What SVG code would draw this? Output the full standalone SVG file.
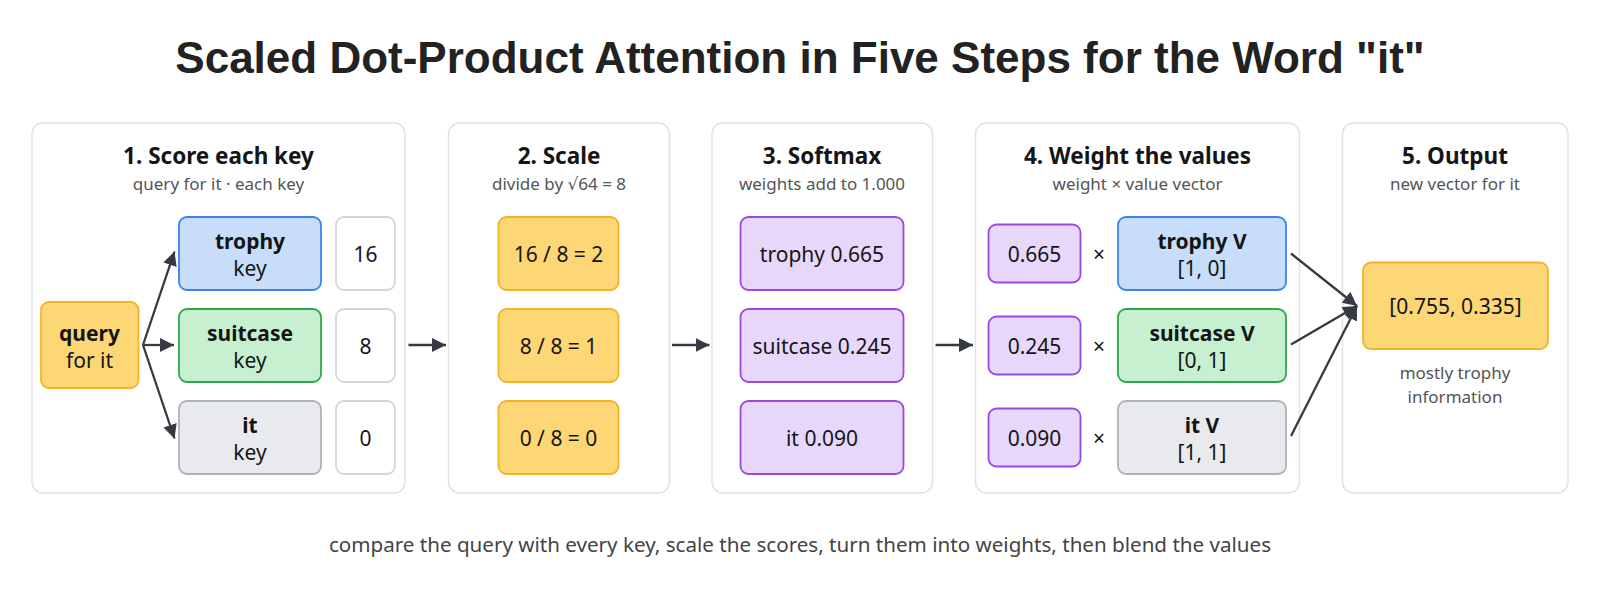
<svg xmlns="http://www.w3.org/2000/svg" width="1600" height="591" viewBox="0 0 1600 591">
<defs>
<marker id="ah" markerUnits="userSpaceOnUse" markerWidth="14" markerHeight="14" refX="14" refY="7" orient="auto">
<path d="M0,0 L14,7 L0,14 z" fill="#363a42"/>
</marker>
<style>
.panel{fill:#ffffff;stroke:#dfe2e6;stroke-width:1.5}
.pt{font-family:"Noto Sans","DejaVu Sans",sans-serif;font-size:22.5px;font-weight:700;fill:#151515;text-anchor:middle}
.ps{font-family:"Noto Sans","DejaVu Sans",sans-serif;font-size:17px;fill:#555555;text-anchor:middle}
.t{font-family:"Noto Sans","DejaVu Sans",sans-serif;font-size:21px;fill:#151515;text-anchor:middle}
.b{font-weight:700}
.yel{fill:#fdd775;stroke:#f2b327;stroke-width:1.8}
.blu{fill:#c7ddfa;stroke:#3a82f0;stroke-width:1.8}
.grn{fill:#c6f0d0;stroke:#2ba84a;stroke-width:1.8}
.gry{fill:#e8eaed;stroke:#adb2b9;stroke-width:1.8}
.pur{fill:#e7d7fb;stroke:#9a48e4;stroke-width:1.8}
.wht{fill:#ffffff;stroke:#d3d6db;stroke-width:1.8}
.con{stroke:#363a42;stroke-width:2.3;fill:none;marker-end:url(#ah)}
.note{font-family:"Noto Sans","DejaVu Sans",sans-serif;font-size:17px;fill:#555555;text-anchor:middle}
</style>
</defs>
<rect width="1600" height="591" fill="#ffffff"/>
<text x="800" y="73" text-anchor="middle" font-family="'Liberation Sans',Arial,sans-serif" font-size="44" font-weight="700" fill="#222222">Scaled Dot-Product Attention in Five Steps for the Word "it"</text>

<g id="panel1">
<rect class="panel" x="32" y="123" width="373" height="370" rx="11"/>
<text class="pt" x="218.5" y="164">1. Score each key</text>
<text class="ps" x="218.5" y="190">query for it · each key</text>
</g>
<g id="query">
<rect class="yel" x="41" y="302" width="97.5" height="86" rx="8"/>
<text class="t b" x="89.5" y="341">query</text>
<text class="t" x="89.5" y="368">for it</text>
</g>
<g id="key-trophy">
<rect class="blu" x="179" y="217" width="142" height="73" rx="8"/>
<text class="t b" x="250" y="249">trophy</text>
<text class="t" x="250" y="276">key</text>
</g>
<g id="key-suitcase">
<rect class="grn" x="179" y="309" width="142" height="73" rx="8"/>
<text class="t b" x="250" y="341">suitcase</text>
<text class="t" x="250" y="368">key</text>
</g>
<g id="key-it">
<rect class="gry" x="179" y="401" width="142" height="73" rx="8"/>
<text class="t b" x="250" y="433">it</text>
<text class="t" x="250" y="460">key</text>
</g>
<g id="score-trophy">
<rect class="wht" x="336" y="217" width="59" height="73" rx="8"/>
<text class="t" x="365.5" y="261.5">16</text>
</g>
<g id="score-suitcase">
<rect class="wht" x="336" y="309" width="59" height="73" rx="8"/>
<text class="t" x="365.5" y="353.5">8</text>
</g>
<g id="score-it">
<rect class="wht" x="336" y="401" width="59" height="73" rx="8"/>
<text class="t" x="365.5" y="445.5">0</text>
</g>

<g id="panel2">
<rect class="panel" x="448.5" y="123" width="221" height="370" rx="11"/>
<text class="pt" x="559" y="164">2. Scale</text>
<text class="ps" x="559" y="190">divide by √64 = 8</text>
</g>
<g id="scale-trophy">
<rect class="yel" x="498.5" y="217" width="120" height="73" rx="8"/>
<text class="t" x="558.5" y="261.5">16 / 8 = 2</text>
</g>
<g id="scale-suitcase">
<rect class="yel" x="498.5" y="309" width="120" height="73" rx="8"/>
<text class="t" x="558.5" y="353.5">8 / 8 = 1</text>
</g>
<g id="scale-it">
<rect class="yel" x="498.5" y="401" width="120" height="73" rx="8"/>
<text class="t" x="558.5" y="445.5">0 / 8 = 0</text>
</g>

<g id="panel3">
<rect class="panel" x="712" y="123" width="220.5" height="370" rx="11"/>
<text class="pt" x="822" y="164">3. Softmax</text>
<text class="ps" x="822" y="190">weights add to 1.000</text>
</g>
<g id="soft-trophy">
<rect class="pur" x="740.5" y="217" width="163" height="73" rx="8"/>
<text class="t" x="822" y="261.5">trophy 0.665</text>
</g>
<g id="soft-suitcase">
<rect class="pur" x="740.5" y="309" width="163" height="73" rx="8"/>
<text class="t" x="822" y="353.5">suitcase 0.245</text>
</g>
<g id="soft-it">
<rect class="pur" x="740.5" y="401" width="163" height="73" rx="8"/>
<text class="t" x="822" y="445.5">it 0.090</text>
</g>

<g id="panel4">
<rect class="panel" x="975.5" y="123" width="324" height="370" rx="11"/>
<text class="pt" x="1137.5" y="164">4. Weight the values</text>
<text class="ps" x="1137.5" y="190">weight × value vector</text>
</g>
<g id="w-trophy">
<rect class="pur" x="988.5" y="224.5" width="92" height="58" rx="8"/>
<text class="t" x="1034.5" y="261.5">0.665</text>
<text class="t" x="1099" y="261.5" fill="#333333">×</text>
</g>
<g id="w-suitcase">
<rect class="pur" x="988.5" y="316.5" width="92" height="58" rx="8"/>
<text class="t" x="1034.5" y="353.5">0.245</text>
<text class="t" x="1099" y="353.5" fill="#333333">×</text>
</g>
<g id="w-it">
<rect class="pur" x="988.5" y="408.5" width="92" height="58" rx="8"/>
<text class="t" x="1034.5" y="445.5">0.090</text>
<text class="t" x="1099" y="445.5" fill="#333333">×</text>
</g>
<g id="v-trophy">
<rect class="blu" x="1118" y="217" width="168" height="73" rx="8"/>
<text class="t b" x="1202" y="249">trophy V</text>
<text class="t" x="1202" y="276">[1, 0]</text>
</g>
<g id="v-suitcase">
<rect class="grn" x="1118" y="309" width="168" height="73" rx="8"/>
<text class="t b" x="1202" y="341">suitcase V</text>
<text class="t" x="1202" y="368">[0, 1]</text>
</g>
<g id="v-it">
<rect class="gry" x="1118" y="401" width="168" height="73" rx="8"/>
<text class="t b" x="1202" y="433">it V</text>
<text class="t" x="1202" y="460">[1, 1]</text>
</g>

<g id="panel5">
<rect class="panel" x="1342.5" y="123" width="225.5" height="370" rx="11"/>
<text class="pt" x="1455" y="164">5. Output</text>
<text class="ps" x="1455" y="190">new vector for it</text>
<text class="note" x="1455" y="379">mostly trophy</text>
<text class="note" x="1455" y="403">information</text>
</g>
<g id="output">
<rect class="yel" x="1363" y="262.5" width="185" height="86.5" rx="8"/>
<text class="t" x="1455.5" y="314">[0.755, 0.335]</text>
</g>

<g id="connectors">
<line class="con" x1="143" y1="345" x2="174.5" y2="251.5"/>
<line class="con" x1="143" y1="345" x2="174" y2="345"/>
<line class="con" x1="143" y1="345" x2="174.5" y2="438.5"/>
<line class="con" x1="408.5" y1="345" x2="446" y2="345"/>
<line class="con" x1="672" y1="345" x2="709.5" y2="345"/>
<line class="con" x1="935.5" y1="345" x2="973" y2="345"/>
<line class="con" x1="1291" y1="253.5" x2="1357" y2="306"/>
<line class="con" x1="1291" y1="344.5" x2="1357" y2="306"/>
<line class="con" x1="1291" y1="436" x2="1357" y2="306"/>
</g>

<text x="800" y="552" text-anchor="middle" font-family="'Noto Sans','DejaVu Sans',sans-serif" font-size="20.6" fill="#444444">compare the query with every key, scale the scores, turn them into weights, then blend the values</text>
</svg>
